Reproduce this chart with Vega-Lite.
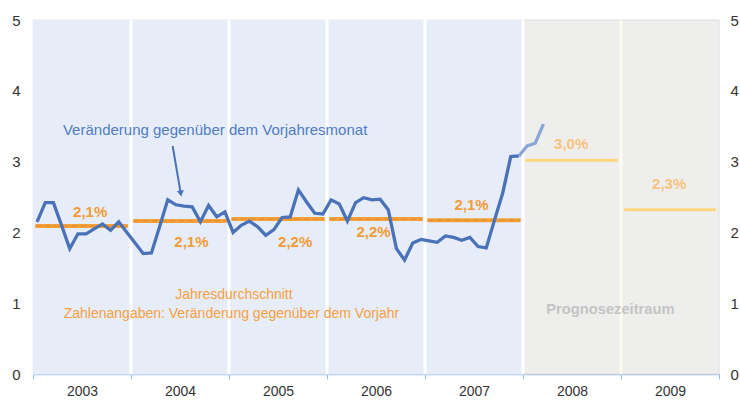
{
  "$schema": "https://vega.github.io/schema/vega-lite/v6.json",
  "width": 686,
  "height": 354,
  "autosize": {"type": "none"},
  "padding": {"left": 33, "top": 20, "right": 21, "bottom": 27},
  "background": "white",
  "config": {"view": {"stroke": null}, "font": "Liberation Sans", "axis": {"grid": false}},
  "datasets": {
    "bands": [
      {"s": 0, "e": 60, "c": "#e7edf8", "b": "#e7edf8"},
      {"s": 60, "e": 84, "c": "#eeefed", "b": "#dcdcdc"}
    ],
    "seps": [
      {"m": 12, "c": "#ffffff"}, {"m": 24, "c": "#ffffff"}, {"m": 36, "c": "#ffffff"},
      {"m": 48, "c": "#ffffff"}, {"m": 60, "c": "#ffffff"}, {"m": 72, "c": "#fdfbef"}
    ],
    "avgs": [
      {"a": 0.3, "b": 11.6, "v": 2.09, "k": "hist", "lab": "2,1%", "lx": 7.0, "ly": 2.29},
      {"a": 12.3, "b": 23.7, "v": 2.16, "k": "hist", "lab": "2,1%", "lx": 19.4, "ly": 1.86},
      {"a": 24.3, "b": 35.7, "v": 2.19, "k": "hist", "lab": "2,2%", "lx": 32.1, "ly": 1.87},
      {"a": 36.3, "b": 47.7, "v": 2.19, "k": "hist", "lab": "2,2%", "lx": 41.7, "ly": 2.0},
      {"a": 48.3, "b": 59.7, "v": 2.17, "k": "hist", "lab": "2,1%", "lx": 53.7, "ly": 2.39},
      {"a": 60.3, "b": 71.6, "v": 3.02, "k": "fc", "lab": "3,0%", "lx": 65.9, "ly": 3.25},
      {"a": 72.4, "b": 83.6, "v": 2.32, "k": "fc", "lab": "2,3%", "lx": 77.9, "ly": 2.69}
    ],
    "monthly": [
      {"m": 0.5, "v": 2.15, "s": "hist"}, {"m": 1.5, "v": 2.42, "s": "hist"}, {"m": 2.5, "v": 2.42, "s": "hist"},
      {"m": 3.5, "v": 2.10, "s": "hist"}, {"m": 4.5, "v": 1.77, "s": "hist"}, {"m": 5.5, "v": 1.98, "s": "hist"},
      {"m": 6.5, "v": 1.98, "s": "hist"}, {"m": 7.5, "v": 2.05, "s": "hist"}, {"m": 8.5, "v": 2.12, "s": "hist"},
      {"m": 9.5, "v": 2.03, "s": "hist"}, {"m": 10.5, "v": 2.15, "s": "hist"}, {"m": 11.5, "v": 2.00, "s": "hist"},
      {"m": 12.5, "v": 1.85, "s": "hist"}, {"m": 13.5, "v": 1.70, "s": "hist"}, {"m": 14.5, "v": 1.71, "s": "hist"},
      {"m": 15.5, "v": 2.08, "s": "hist"}, {"m": 16.5, "v": 2.46, "s": "hist"}, {"m": 17.5, "v": 2.39, "s": "hist"},
      {"m": 18.5, "v": 2.37, "s": "hist"}, {"m": 19.5, "v": 2.36, "s": "hist"}, {"m": 20.5, "v": 2.15, "s": "hist"},
      {"m": 21.5, "v": 2.38, "s": "hist"}, {"m": 22.5, "v": 2.22, "s": "hist"}, {"m": 23.5, "v": 2.29, "s": "hist"},
      {"m": 24.5, "v": 2.00, "s": "hist"}, {"m": 25.5, "v": 2.10, "s": "hist"}, {"m": 26.5, "v": 2.16, "s": "hist"},
      {"m": 27.5, "v": 2.08, "s": "hist"}, {"m": 28.5, "v": 1.96, "s": "hist"}, {"m": 29.5, "v": 2.04, "s": "hist"},
      {"m": 30.5, "v": 2.21, "s": "hist"}, {"m": 31.5, "v": 2.22, "s": "hist"}, {"m": 32.5, "v": 2.60, "s": "hist"},
      {"m": 33.5, "v": 2.43, "s": "hist"}, {"m": 34.5, "v": 2.27, "s": "hist"}, {"m": 35.5, "v": 2.26, "s": "hist"},
      {"m": 36.5, "v": 2.46, "s": "hist"}, {"m": 37.5, "v": 2.40, "s": "hist"}, {"m": 38.5, "v": 2.16, "s": "hist"},
      {"m": 39.5, "v": 2.42, "s": "hist"}, {"m": 40.5, "v": 2.49, "s": "hist"}, {"m": 41.5, "v": 2.46, "s": "hist"},
      {"m": 42.5, "v": 2.47, "s": "hist"}, {"m": 43.5, "v": 2.32, "s": "hist"}, {"m": 44.5, "v": 1.77, "s": "hist"},
      {"m": 45.5, "v": 1.61, "s": "hist"}, {"m": 46.5, "v": 1.85, "s": "hist"}, {"m": 47.5, "v": 1.90, "s": "hist"},
      {"m": 48.5, "v": 1.88, "s": "hist"}, {"m": 49.5, "v": 1.86, "s": "hist"}, {"m": 50.5, "v": 1.95, "s": "hist"},
      {"m": 51.5, "v": 1.93, "s": "hist"}, {"m": 52.5, "v": 1.89, "s": "hist"}, {"m": 53.5, "v": 1.93, "s": "hist"},
      {"m": 54.5, "v": 1.80, "s": "hist"}, {"m": 55.5, "v": 1.78, "s": "hist"}, {"m": 56.5, "v": 2.17, "s": "hist"},
      {"m": 57.5, "v": 2.55, "s": "hist"}, {"m": 58.5, "v": 3.07, "s": "hist"}, {"m": 59.5, "v": 3.08, "s": "hist"},
      {"m": 59.5, "v": 3.08, "s": "fc"}, {"m": 60.5, "v": 3.22, "s": "fc"}, {"m": 61.5, "v": 3.26, "s": "fc"},
      {"m": 62.5, "v": 3.53, "s": "fc"}
    ],
    "notes": [
      {"m": 22.3, "v": 3.44, "t": "Veränderung gegenüber dem Vorjahresmonat", "c": "#4f7cc4", "fs": 15},
      {"m": 24.6, "v": 1.11, "t": "Jahresdurchschnitt", "c": "#f5a043", "fs": 14},
      {"m": 24.3, "v": 0.85, "t": "Zahlenangaben: Veränderung gegenüber dem Vorjahr", "c": "#f5a043", "fs": 14}
    ],
    "boldnotes": [
      {"m": 70.7, "v": 0.91, "t": "Prognosezeitraum"}
    ],
    "arrow": [
      {"m": 17.1, "v": 3.22, "m2": 18.05, "v2": 2.58}
    ],
    "arrowhead": [
      {"m": 18.1, "v": 2.55}
    ]
  },
  "layer": [
    {
      "data": {"name": "bands"},
      "mark": {"type": "rect", "strokeWidth": 1},
      "encoding": {
        "x": {
          "field": "s", "type": "quantitative", "title": null,
          "scale": {"domain": [0, 84], "nice": false, "zero": false},
          "axis": {
            "values": [0, 6, 12, 18, 24, 30, 36, 42, 48, 54, 60, 66, 72, 78, 84],
            "labelExpr": "datum.value % 12 == 6 ? '' + (2003 + floor(datum.value / 12)) : ''",
            "tickOpacity": {"condition": {"test": "datum.value % 12 == 6", "value": 0}, "value": 1},
            "domainColor": "#9dbbe6", "tickColor": "#9dbbe6", "tickSize": 5, "domainWidth": 1.5,
            "labelFontSize": 14, "labelColor": "#333333", "labelPadding": 5, "labelFont": "Liberation Sans"
          }
        },
        "x2": {"field": "e"},
        "y": {
          "datum": 0, "type": "quantitative", "title": null,
          "scale": {"domain": [0, 5], "nice": false},
          "axis": {"orient": "left", "values": [0, 1, 2, 3, 4, 5], "domain": false, "ticks": false,
                   "labelFontSize": 15, "labelColor": "#333333", "labelPadding": 13, "labelFont": "Liberation Sans"}
        },
        "y2": {"datum": 5},
        "fill": {"field": "c", "type": "nominal", "scale": null},
        "stroke": {"field": "b", "type": "nominal", "scale": null}
      }
    },
    {
      "data": {"name": "seps"},
      "mark": {"type": "rule", "strokeWidth": 3},
      "encoding": {
        "x": {"field": "m", "type": "quantitative", "title": null},
        "y": {
          "datum": 0, "type": "quantitative", "title": null,
          "scale": {"domain": [0, 5], "nice": false},
          "axis": {"orient": "right", "values": [0, 1, 2, 3, 4, 5], "domain": false, "ticks": false,
                   "labelFontSize": 15, "labelColor": "#333333", "labelPadding": 11, "labelFont": "Liberation Sans"}
        },
        "y2": {"datum": 5},
        "color": {"field": "c", "type": "nominal", "scale": null}
      }
    },
    {
      "data": {"name": "avgs"},
      "mark": {"type": "rule"},
      "encoding": {
        "x": {"field": "a", "type": "quantitative", "title": null},
        "x2": {"field": "b"},
        "y": {"field": "v", "type": "quantitative", "title": null, "scale": {"domain": [0, 5], "nice": false}, "axis": null},
        "color": {"field": "k", "type": "nominal", "scale": {"domain": ["hist", "fc"], "range": ["#f5a03c", "#fdd67e"]}, "legend": null},
        "strokeWidth": {"field": "k", "type": "nominal", "scale": {"domain": ["hist", "fc"], "range": [4, 3]}, "legend": null}
      }
    },
    {
      "data": {"name": "avgs"},
      "transform": [{"filter": "datum.k == 'hist'"}],
      "mark": {"type": "rule", "strokeWidth": 1.5, "strokeDash": [6, 3], "color": "#e8912e"},
      "encoding": {
        "x": {"field": "a", "type": "quantitative", "title": null},
        "x2": {"field": "b"},
        "y": {"field": "v", "type": "quantitative", "title": null, "scale": {"domain": [0, 5], "nice": false}, "axis": null}
      }
    },
    {
      "data": {"name": "monthly"},
      "mark": {"type": "line", "strokeWidth": 3.3, "strokeJoin": "miter"},
      "encoding": {
        "x": {"field": "m", "type": "quantitative", "title": null},
        "y": {"field": "v", "type": "quantitative", "title": null, "scale": {"domain": [0, 5], "nice": false}, "axis": null},
        "color": {"field": "s", "type": "nominal", "scale": {"domain": ["hist", "fc"], "range": ["#4a72b8", "#8aa6d8"]}, "legend": null}
      }
    },
    {
      "data": {"name": "avgs"},
      "mark": {"type": "text", "fontSize": 15, "fontWeight": "bold", "font": "Liberation Sans"},
      "encoding": {
        "x": {"field": "lx", "type": "quantitative", "title": null},
        "y": {"field": "ly", "type": "quantitative", "title": null, "scale": {"domain": [0, 5], "nice": false}, "axis": null},
        "text": {"field": "lab"},
        "color": {"field": "k", "type": "nominal", "scale": {"domain": ["hist", "fc"], "range": ["#f39b36", "#f8c27c"]}, "legend": null}
      }
    },
    {
      "data": {"name": "notes"},
      "mark": {"type": "text", "font": "Liberation Sans"},
      "encoding": {
        "x": {"field": "m", "type": "quantitative", "title": null},
        "y": {"field": "v", "type": "quantitative", "title": null, "scale": {"domain": [0, 5], "nice": false}, "axis": null},
        "text": {"field": "t"},
        "color": {"field": "c", "type": "nominal", "scale": null},
        "size": {"field": "fs", "type": "quantitative", "scale": null}
      }
    },
    {
      "data": {"name": "boldnotes"},
      "mark": {"type": "text", "font": "Liberation Sans", "fontSize": 14.7, "fontWeight": "bold", "color": "#c4c4c4"},
      "encoding": {
        "x": {"field": "m", "type": "quantitative", "title": null},
        "y": {"field": "v", "type": "quantitative", "title": null, "scale": {"domain": [0, 5], "nice": false}, "axis": null},
        "text": {"field": "t"}
      }
    },
    {
      "data": {"name": "arrow"},
      "mark": {"type": "rule", "strokeWidth": 2, "color": "#4a72b8"},
      "encoding": {
        "x": {"field": "m", "type": "quantitative", "title": null},
        "x2": {"field": "m2"},
        "y": {"field": "v", "type": "quantitative", "title": null, "scale": {"domain": [0, 5], "nice": false}, "axis": null},
        "y2": {"field": "v2"}
      }
    },
    {
      "data": {"name": "arrowhead"},
      "mark": {"type": "point", "shape": "triangle-down", "filled": true, "size": 50, "color": "#4a72b8", "opacity": 1, "angle": 351},
      "encoding": {
        "x": {"field": "m", "type": "quantitative", "title": null},
        "y": {"field": "v", "type": "quantitative", "title": null, "scale": {"domain": [0, 5], "nice": false}, "axis": null}
      }
    }
  ],
  "resolve": {
    "scale": {"y": "independent", "color": "independent", "strokeWidth": "independent"},
    "axis": {"y": "independent"},
    "legend": {"color": "independent"}
  }
}
